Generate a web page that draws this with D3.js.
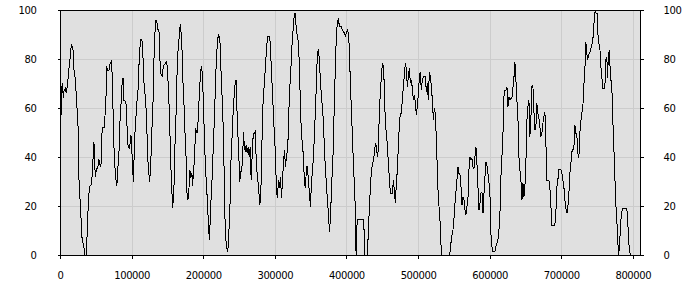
<!DOCTYPE html>
<html><head><meta charset="utf-8">
<script src="https://cdn.jsdelivr.net/npm/d3@7"></script>
<style>
html,body{margin:0;padding:0;background:#fff;}
svg text{font-family:"DejaVu Sans",Verdana,sans-serif;font-size:10px;fill:#000;}
</style></head>
<body><svg id="c" width="700" height="300"></svg>
<script>
const xTicks = [0,100000,200000,300000,400000,500000,600000,700000,800000];
const yTicks = [0,20,40,60,80,100];
const positions = [500,1400,2300,3300,4700,5600,7400,8800,10200,11600,13000,14400,15800,17200,18100,19500,21400,22800,24200,25600,26500,27400,28800,30200,32100,34000,34900,36700,37700,38600,40000,40900,43700,45100,46500,47400,48400,49300,50700,52100,53500,54400,55800,57200,58100,59500,61900,62800,64200,65100,66500,68400,69800,71600,72600,73500,74400,75800,77700,79100,80000,81400,82800,84200,85600,87000,88400,89300,90700,91600,93000,94000,95300,97200,99100,100000,101400,102800,103700,105100,106500,107900,109300,110700,112600,114400,115800,117200,119500,120900,122300,123700,125100,126000,127400,128800,130200,131600,133000,134000,135300,136700,138100,139100,140000,141400,142800,144200,146500,148800,150200,151600,153000,154400,155800,157200,158100,159500,160900,162300,163700,165100,166500,167900,168800,170200,171600,173000,174400,175800,177200,178600,180000,181400,182800,184200,185100,186500,187900,189300,190700,192100,193500,194900,196300,197700,199100,200500,201900,203300,204600,206000,207400,208800,210200,211600,213000,214400,215800,217200,218600,220000,221400,
223250,224600,226000,227400,228800,229800,230700,232600,234400,235800,237200,238600,240000,241400,242800,244200,245100,246000,247000,248400,249800,251200,252100,253500,254900,256300,257200,258600,260000,261400,262800,264200,265600,267000,268400,269800,271200,272600,273500,274900,276300,277700,279100,280500,281900,283200,284600,286000,287400,288800,290200,293000,294400,295800,297200,298600,300000,301400,302300,303700,305100,306500,307900,309300,310700,312100,313500,314900,316300,317700,319100,320500,321900,323200,324600,326000,327400,328800,330200,331600,333000,334400,335800,337200,338600,340000,341400,342800,344200,345600,347000,348400,349800,351200,352500,353900,355300,356700,358100,359500,360900,362300,363700,365100,366500,367900,369300,370700,372100,373500,374900,376300,377700,379100,380500,381800,383200,384600,386000,387400,388800,390200,393000,394400,395800,397200,398600,400000,401400,402800,404200,405600,407000,408400,409800,411200,412500,413500,414400,415300,424200,425600,429300,430700,432100,433500,434900,436300,437700,439100,440500,441800,443200,444600,446000,447400,448800,450200,451600,453000,454400,455800,457200,458600,460000,461400,464200,465600,467000,468400,469800,471200,472500,473900,475300,476700,478100,479500,480900,482300,483700,485100,486500,487900,489300,490700,492100,493500,494900,496300,497700,499100,500500,501900,503200,504600,506000,507400,510200,511600,513000,514400,515800,517200,518600,520000,521400,522800,524200,525600,527000,528400,529800,531200,532600,
544200,545500,546900,548800,550200,551600,553000,554400,555800,557200,558600,560000,561400,562800,564200,565500,566900,568300,569700,571100,572500,573900,575300,576700,578100,579500,580900,582300,583700,585100,586500,587900,589300,590700,592100,593500,594900,596200,597600,599000,600400,601800,603200,604600,607400,608800,610200,611600,613000,614400,615800,617200,618600,620000,621400,622800,624200,625500,626900,628300,629700,631100,632500,633900,635300,636700,638100,639500,640900,642300,643700,645100,646500,647900,649300,650700,652100,653500,654900,656200,657600,659000,660400,661800,663200,664600,666000,667400,668800,670200,671600,673000,674400,675800,677200,678600,680000,682800,684100,685500,686900,691100,692500,693900,695300,696700,699500,700900,702300,703700,705100,706500,707900,709300,710700,712100,713500,714900,716200,717600,719000,720400,721800,723200,724600,726000,727400,728800,730200,731600,733000,734400,735300,736700,738100,739500,740900,742300,743700,745100,746000,747400,748800,750200,751100,752500,753900,755300,756700,758100,760900,762300,763700,764600,766000,767400,768800,770200,771600,773000,774400,775800,777200,778600,780000,781400,782800,784200,785600,791100,792500,793900,795300,796700];
const values = [67,57,68,70,64,67,68,66,69,73,77.5,81,86,85,84,75.5,72,64.6,58,50,31,25,19.7,8,5,2,0,0,7,15.6,21.8,28,28.6,33.3,41.6,46,37.5,32,34.7,35.5,36.7,39,36.7,36,48,52,52,56.5,64,77,75.5,75.5,78,79,75,65,56,39.5,32,28,30.6,38.8,44,58.5,62.6,72,72,63,63,62.6,60,47.6,44,43.6,49,45.6,34.7,30,44,52,58,64.6,68,81,87.8,87.8,81.6,70.7,63,56,40.8,34.7,30,33.5,42,55,64.6,85,92.5,96,95,92,92,86,75.5,73.5,73,77,78,79,75.5,66,56.5,38.8,30,19,22.4,30,49,59,77,85,89,94.3,92,86,71.4,63,51,42.9,25.8,22.4,26.5,34.7,31.4,33.5,28,34,39.5,52,50,50,59,67,75,77,72.8,59,46,34.7,28.6,21,11.6,6,18,26.5,34.7,47.6,56,71.4,80.4,87.8,89.8,
88.4,76.9,67,57.8,38.8,28.6,9,3.4,1.4,9,17.7,37.5,46,55.8,63,68.7,71.4,71.4,60.5,49.7,40,30,34,34,38.8,50.3,45.6,42.2,44.9,41.5,44,40,44,30.6,40.8,49,49.7,50.3,42.9,34.7,30.6,25.8,20.4,25.2,44.2,59.9,66.7,72.8,79.6,85.7,89.1,89.1,80.9,72.1,63.3,53.8,46.9,35.4,25.8,23.1,30.6,27.2,32,23.1,30.6,37.4,42.9,36,40.1,42.9,51,68.7,70.7,82.3,88.4,93.9,98.6,98.6,90.5,89.8,86.4,76.9,59.9,49.7,44.9,40.1,29.3,27.2,36,36,29.9,25.2,19.7,29.9,34,40.1,49,59.2,70.1,83,83.7,79.6,70.7,64.6,60.5,53.8,43.5,34.7,28.6,22.4,17,9.5,15,26.5,36,44.2,64,76.9,90.5,94.6,96.6,93.2,93.2,91.8,91.2,90.5,89.1,91.2,91.8,90.5,83.7,68.7,59.2,48.3,36.7,27.9,18.4,0,10.2,14.3,14.3,0,0,10.2,19.7,27.9,34.7,36.7,38.8,41.5,45.6,44.5,40.1,42.9,59.2,66,72.8,78.2,76.9,68.7,52.4,50.3,44.2,37.4,31.3,25.2,25.2,30.6,25.8,21.1,29.9,34.7,44.2,53.1,57.8,57.8,63.3,68.7,73.5,78.2,76.2,68.7,72.8,76.2,70.1,71.4,68,63.3,65.3,61.9,57.1,61.2,66,72.8,74.8,67.3,71.4,72.8,72.8,66.7,70.1,63.3,74.8,72.8,68.7,63.3,55.1,59.9,57.8,46.9,34.7,22.4,18.4,11.6,0,
0,3.4,7.5,10.2,15,21.1,25.8,30.6,36,33.3,32.7,27.9,20.4,23.8,22.4,18.4,16.3,19.7,22.4,34.7,40.1,38.8,39.5,36,35.4,40.1,44.2,37.4,27.9,18.4,21.1,25.2,25.8,17,25.2,32,38.1,36.7,33.3,29.9,25.2,8.8,3.4,1.4,1.4,3.4,4.8,6.1,10.2,17,32,40.1,49,64.6,67.3,67.3,68.7,60.5,64.6,63.3,63.9,63.9,68,72.1,78.9,71.4,63.3,56.4,40.1,34.7,30.6,22.4,29.3,23.8,27.9,38.1,55.1,60.5,63.3,48.3,55.1,68.7,69.4,59.2,51,52.4,61.9,57.8,55.8,52.4,48.3,49.7,53.8,56.4,58.5,45.6,30.6,30.6,27.9,20.4,12.2,12.2,17,27.9,30.6,34.7,34.7,33.3,30.6,27.9,22.4,19,17,19.7,25.2,33.3,37.4,42.2,42.9,42.9,53.1,49.7,49,41.5,39.5,49.7,54.4,57.8,60.5,69.4,75.5,87.1,83.7,79.6,81.6,82.3,83.7,85,87.1,90.5,95.9,100,98.6,98.6,90.5,86.4,85,76.9,72.8,68,68,79.6,80.9,72.1,82.3,83.7,71.4,71.4,61.2,45.6,38.8,22.4,17,8.2,0,3.4,12.2,17,19,19,17,6.8,2,0];

const W = 700, H = 300;
const m = {left:60, right:640, top:10, bottom:255};
const svg = d3.select('#c');
const x = d3.scaleLinear().domain([0, 810000]).range([m.left, m.right]);
const y = d3.scaleLinear().domain([0, 100]).range([m.bottom, m.top]);

svg.append('rect').attr('x', m.left).attr('y', m.top)
  .attr('width', m.right - m.left).attr('height', m.bottom - m.top)
  .attr('fill', '#e0e0e0');

// grid
svg.append('g').selectAll('line').data(xTicks.filter(d=>d>0)).join('line')
  .attr('x1', d=>Math.round(x(d))+0.5).attr('x2', d=>Math.round(x(d))+0.5)
  .attr('y1', m.top).attr('y2', m.bottom)
  .attr('stroke', '#cccccc').attr('stroke-width', 1);
svg.append('g').selectAll('line').data(yTicks.filter(d=>d>0 && d<100)).join('line')
  .attr('y1', d=>Math.round(y(d))+0.5).attr('y2', d=>Math.round(y(d))+0.5)
  .attr('x1', m.left).attr('x2', m.right)
  .attr('stroke', '#cccccc').attr('stroke-width', 1);

// data line
const pts = positions.map((p,i)=>[p, values[i]]);
svg.append('path').datum(pts)
  .attr('fill','none').attr('stroke','#000').attr('stroke-width',1)
  .attr('shape-rendering','crispEdges')
  .attr('d', d3.line().x(d=>x(d[0])).y(d=>y(d[1])));

// frame
svg.append('rect').attr('x', m.left+0.5).attr('y', m.top+0.5)
  .attr('width', m.right - m.left).attr('height', m.bottom - m.top)
  .attr('fill','none').attr('stroke','#000').attr('stroke-width',1)
  .attr('shape-rendering','crispEdges');

// axes
const xAxis = d3.axisBottom(x).tickValues(xTicks).tickSize(3).tickPadding(13).tickFormat(d3.format('d'));
const gx = svg.append('g').attr('transform', `translate(0,${m.bottom+0.5})`).call(xAxis);
const yl = d3.axisLeft(y).tickValues(yTicks).tickSize(3).tickPadding(21).tickFormat(d3.format('d'));
const gyl = svg.append('g').attr('transform', `translate(${m.left+0.5},0)`).call(yl);
const yr = d3.axisRight(y).tickValues(yTicks).tickSize(3).tickPadding(20).tickFormat(d3.format('d'));
const gyr = svg.append('g').attr('transform', `translate(${m.right+0.5},0)`).call(yr);
[gx,gyl,gyr].forEach(g=>{
  g.select('.domain').remove();
  g.selectAll('.tick line').attr('stroke','#000').attr('shape-rendering','crispEdges');
  g.selectAll('text').attr('font-family','"DejaVu Sans",Verdana,sans-serif').attr('font-size',10)
    .attr('letter-spacing','-0.4px').attr('fill','#000');
});
</script></body></html>
